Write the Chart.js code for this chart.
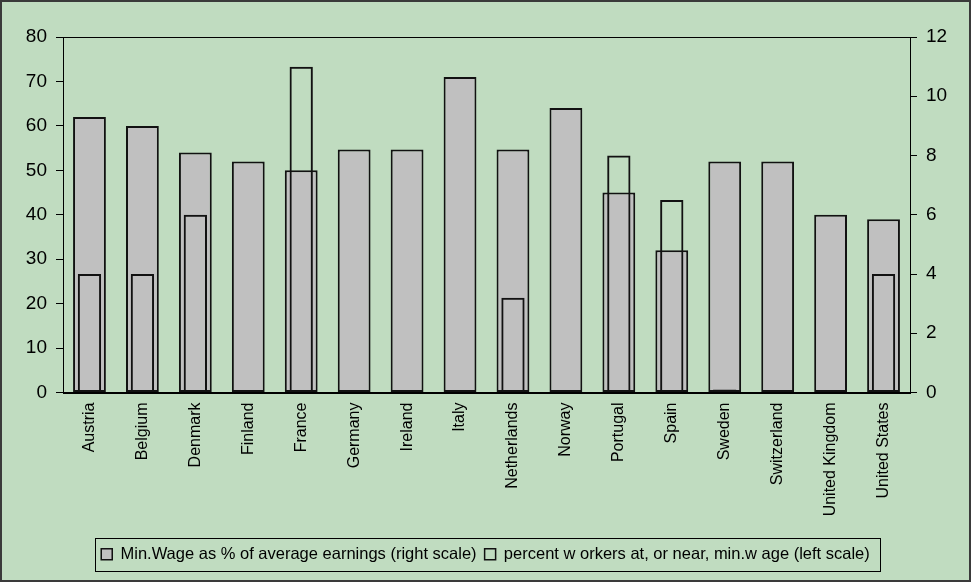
<!DOCTYPE html>
<html>
<head>
<meta charset="utf-8">
<script src="https://cdn.jsdelivr.net/npm/chart.js"></script>
<style>
  html, body { margin: 0; padding: 0; background: #C0DCC0; }
  #wrap { width: 971px; height: 582px; position: relative; }
</style>
</head>
<body>
<div id="wrap"><canvas id="chart" width="971" height="582"></canvas></div>
<script>
// Datos
const countries = ['Austria', 'Belgium', 'Denmark', 'Finland', 'France', 'Germany', 'Ireland', 'Italy',
  'Netherlands', 'Norway', 'Portugal', 'Spain', 'Sweden', 'Switzerland', 'United Kingdom', 'United States'];
const minWagePct = [62, 60, 54, 52, 50, 54.7, 54.7, 71, 54.7, 64, 45, 32, 52, 52, 40, 39];   // barras grises (eje izq.)
const nearMinPct = [4, 4, 6, null, 11, null, null, null, 3.2, null, 8, 6.5, 0.1, null, null, 4]; // barras huecas (eje der.)
const leftTicks = [0, 10, 20, 30, 40, 50, 60, 70, 80];
const rightTicks = [0, 2, 4, 6, 8, 10, 12];

const FONT = 'Liberation Sans, Arial, sans-serif';

// fondo, marco exterior, marco del área y caja de leyenda
const framePlugin = {
  id: 'frame',
  beforeDraw(chart) {
    const { ctx, width, height } = chart;
    ctx.save();
    ctx.fillStyle = '#C0DCC0';
    ctx.fillRect(0, 0, width, height);
    ctx.restore();
  },
  afterDraw(chart) {
    const { ctx, width, height, chartArea: a } = chart;
    ctx.save();
    ctx.strokeStyle = '#000';
    ctx.lineWidth = 1;
    ctx.strokeRect(Math.round(a.left) + 0.5, Math.round(a.top) + 0.5,
      Math.round(a.right - a.left), Math.round(a.bottom - a.top));

    const hb = chart.legend && chart.legend.legendHitBoxes;
    if (hb && hb.length) {
      const l = Math.min(...hb.map(h => h.left)) - 6;
      const r = Math.max(...hb.map(h => h.left + h.width)) + 10;
      const cy = hb[0].top + hb[0].height / 2;
      ctx.strokeRect(Math.round(l) + 0.5, Math.round(cy - 16.5) + 0.5, Math.round(r - l), 33);
    }

    ctx.strokeStyle = '#3a3a3a';
    ctx.lineWidth = 2;
    ctx.strokeRect(1, 1, width - 2, height - 2);
    ctx.restore();
  }
};

new Chart(document.getElementById('chart'), {
  type: 'bar',
  data: {
    labels: countries,
    datasets: [
      {
        label: 'Min.Wage as % of average earnings (right scale)',
        data: minWagePct,
        yAxisID: 'y',
        backgroundColor: '#C0C0C0',
        borderColor: '#111',
        borderWidth: 2,
        borderSkipped: false,
        barPercentage: 0.62,
        categoryPercentage: 1,
        grouped: false,
        order: 2
      },
      {
        label: 'percent w orkers at, or near, min.w age (left scale)',
        data: nearMinPct,
        yAxisID: 'y1',
        backgroundColor: 'rgba(0,0,0,0)',
        borderColor: '#111',
        borderWidth: 2,
        borderSkipped: false,
        barPercentage: 0.44,
        categoryPercentage: 1,
        grouped: false,
        order: 1
      }
    ]
  },
  options: {
    responsive: false,
    animation: false,
    devicePixelRatio: 1,
    layout: { padding: { top: 37, left: 0, right: 0, bottom: 9.5 } },
    plugins: {
      tooltip: { enabled: false },
      legend: {
        position: 'bottom',
        labels: {
          color: '#000',
          font: { family: FONT, size: 16.5 },
          boxWidth: 11,
          boxHeight: 11,
          padding: 8,
          sort: (a, b) => a.datasetIndex - b.datasetIndex,
          generateLabels(chart) {
            const items = Chart.defaults.plugins.legend.labels.generateLabels(chart);
            items.forEach(i => { i.lineWidth = 1.5; });
            return items;
          }
        }
      }
    },
    scales: {
      x: {
        grid: { display: false, drawTicks: false },
        border: { display: true, color: '#000', width: 1 },
        ticks: {
          color: '#000',
          font: { family: FONT, size: 16 },
          maxRotation: 90,
          minRotation: 90,
          autoSkip: false,
          padding: 10
        },
        afterFit(scale) { scale.height = 145.5; }
      },
      y: {
        position: 'left',
        min: 0,
        max: 80,
        afterBuildTicks(scale) { scale.ticks = leftTicks.map(v => ({ value: v })); },
        grid: { drawOnChartArea: false, color: '#000', tickLength: 7 },
        border: { color: '#000', width: 1 },
        ticks: { color: '#000', font: { family: FONT, size: 19 }, padding: 9 },
        afterFit(scale) { scale.width = 63; }
      },
      y1: {
        position: 'right',
        min: 0,
        max: 12,
        afterBuildTicks(scale) { scale.ticks = rightTicks.map(v => ({ value: v })); },
        grid: { drawOnChartArea: false, color: '#000', tickLength: 7 },
        border: { color: '#000', width: 1 },
        ticks: { color: '#000', font: { family: FONT, size: 19 }, padding: 9 },
        afterFit(scale) { scale.width = 61; }
      }
    }
  },
  plugins: [framePlugin]
});
</script>
</body>
</html>
